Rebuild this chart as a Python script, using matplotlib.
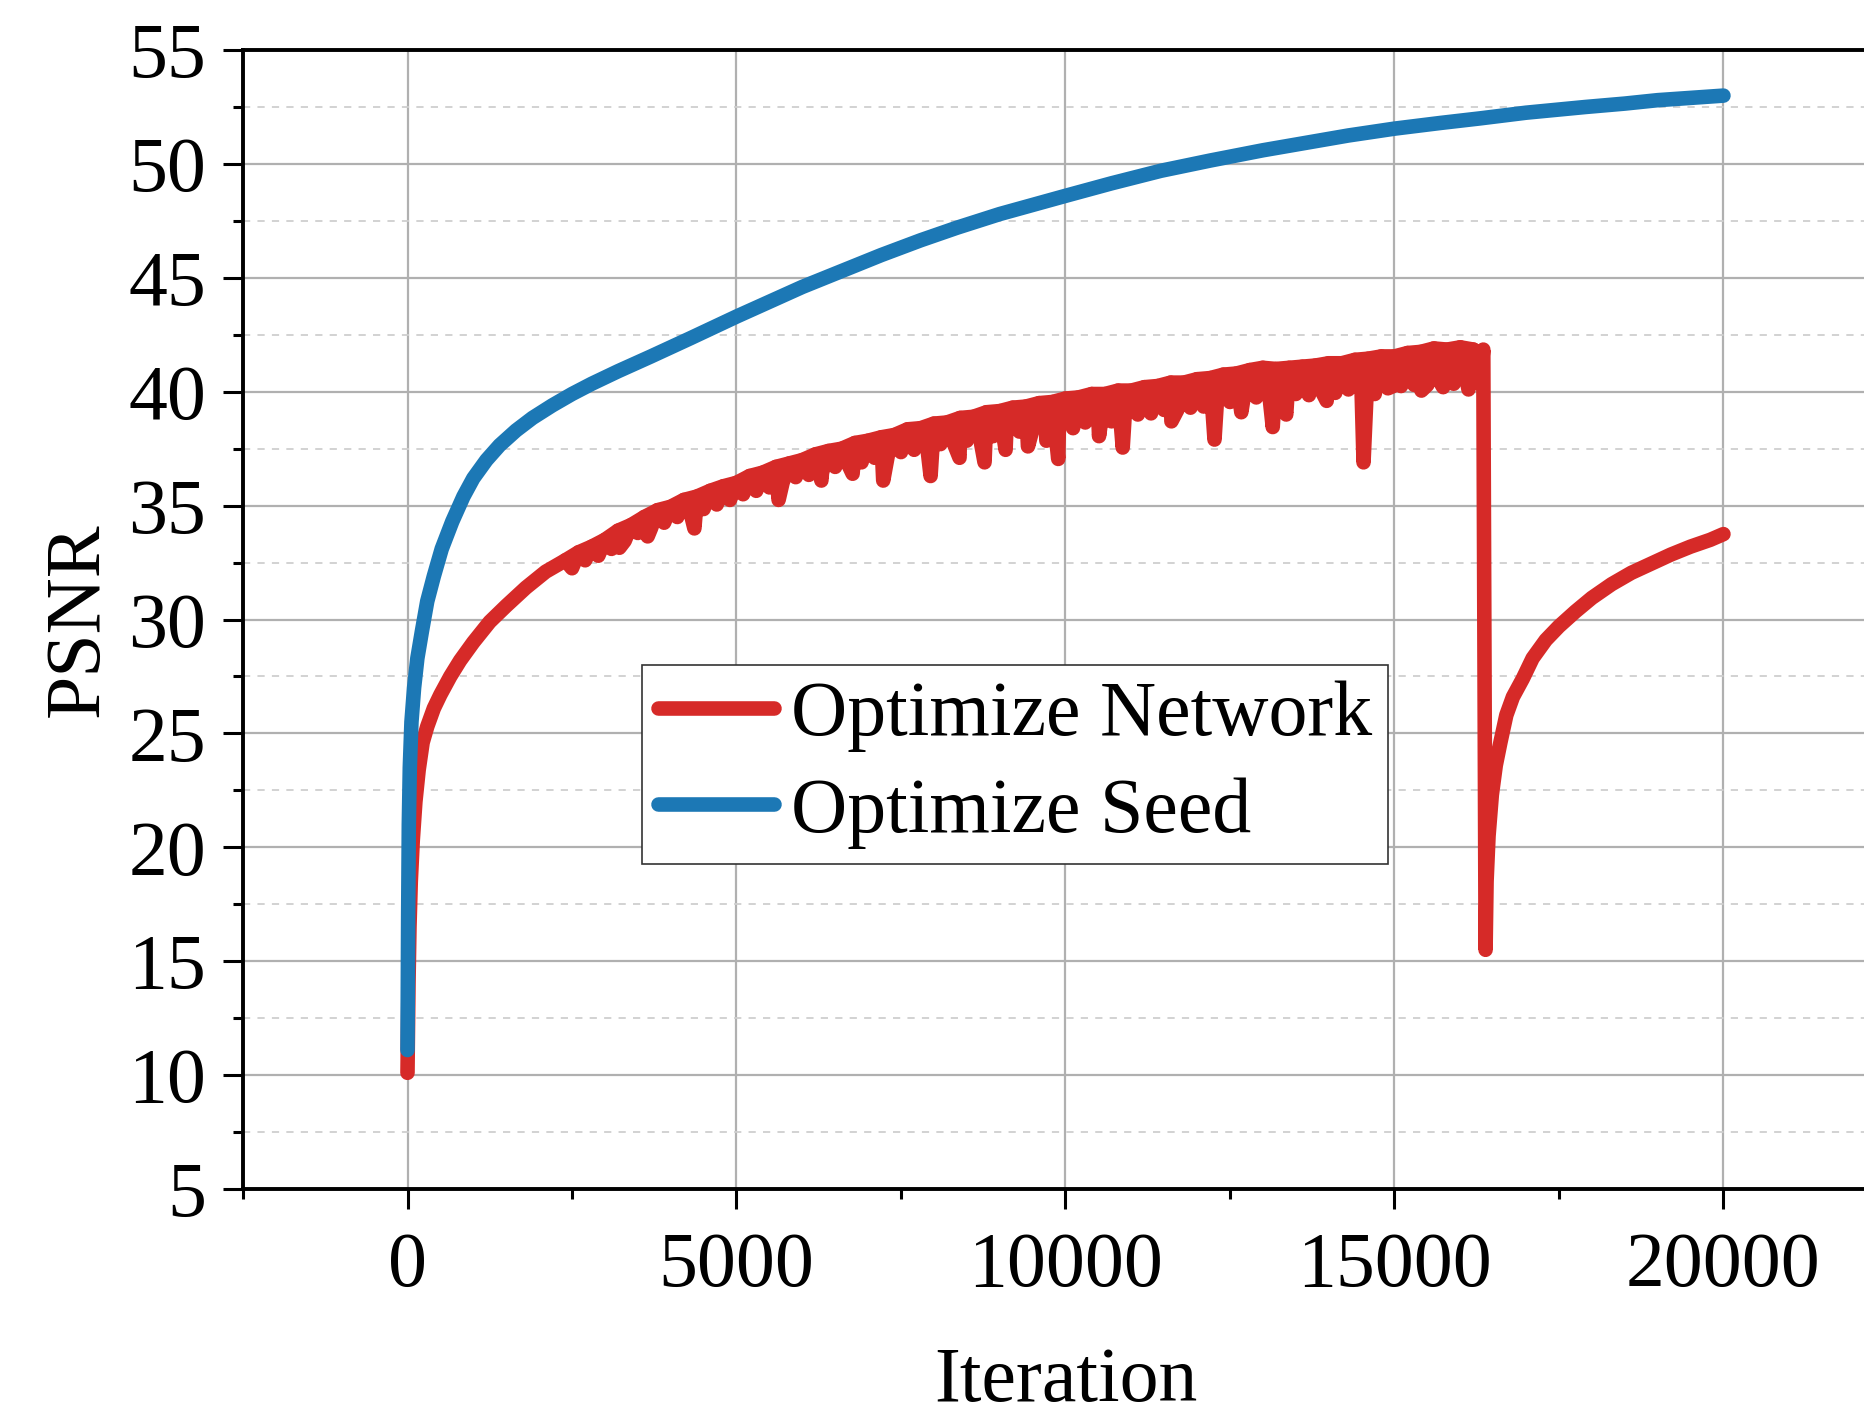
import matplotlib
matplotlib.use('Agg')
import matplotlib.pyplot as plt
import numpy as np
from matplotlib.ticker import MultipleLocator

plt.rcParams['font.family'] = 'serif'
plt.rcParams['font.serif'] = ['Liberation Serif', 'DejaVu Serif']

# ---- Optimize Seed (blue) ----
seed_x = [0, 10, 20, 35, 60, 100, 150, 220, 300, 400, 520, 680, 850, 1000, 1200,
          1400, 1650, 1900, 2200, 2500, 2800, 3200, 3700, 4300, 5000, 5500, 6000,
          6600, 7200, 7800, 8350, 9000, 10000, 10700, 11450, 12200, 13000, 13600,
          14300, 15000, 15700, 16300, 17000, 17900, 18500, 19000, 19500, 20000]
seed_y = [11.1, 17.0, 21.0, 23.5, 25.5, 27.0, 28.3, 29.5, 30.8, 31.9, 33.1, 34.3,
          35.4, 36.2, 37.0, 37.65, 38.3, 38.85, 39.4, 39.9, 40.35, 40.9, 41.55,
          42.35, 43.3, 43.95, 44.6, 45.3, 46.0, 46.65, 47.2, 47.8, 48.6, 49.15,
          49.7, 50.15, 50.6, 50.9, 51.25, 51.55, 51.8, 52.0, 52.25, 52.5, 52.65,
          52.8, 52.9, 53.0]

# ---- Optimize Network (red) ----
net_early_x = [0, 15, 30, 50, 80, 120, 170, 230, 300, 400, 500, 650, 800, 1000,
               1250, 1500, 1800, 2100]
net_early_y = [10.1, 14.0, 16.5, 18.5, 20.3, 22.0, 23.4, 24.6, 25.3, 26.1, 26.7,
               27.5, 28.2, 29.0, 29.9, 30.6, 31.4, 32.1]

# upper edge of the noisy band, every 200 iterations from 2400
net_hi_x = np.arange(2400, 16300, 200)
net_hi_y = [32.6, 32.95, 33.2, 33.5, 33.9, 34.15, 34.5, 34.8, 34.95, 35.25, 35.4,
            35.65, 35.85, 36.0, 36.3, 36.45, 36.7, 36.85, 37.0, 37.25, 37.4, 37.5,
            37.75, 37.85, 38.0, 38.1, 38.35, 38.4, 38.6, 38.65, 38.85, 38.9, 39.1,
            39.15, 39.3, 39.35, 39.5, 39.55, 39.7, 39.75, 39.9, 39.9, 40.05, 40.05,
            40.2, 40.25, 40.4, 40.4, 40.55, 40.6, 40.75, 40.8, 40.95, 41.05, 41.0,
            41.05, 41.1, 41.15, 41.25, 41.25, 41.4, 41.45, 41.55, 41.55, 41.7,
            41.75, 41.9, 41.85, 41.95, 41.85]
# lower edge of the band, in between
net_lo_x = np.arange(2500, 16400, 200)
net_lo_y = [32.25, 32.6, 32.8, 33.1, 33.45, 33.8, 34.0, 34.25, 34.5, 34.7, 34.85,
            35.05, 35.25, 35.5, 35.65, 35.8, 36.0, 36.25, 36.35, 36.45, 36.7, 36.8,
            36.9, 37.1, 37.2, 37.35, 37.45, 37.55, 37.7, 37.75, 37.85, 38.0, 38.05,
            38.2, 38.25, 38.35, 38.5, 38.45, 38.6, 38.65, 38.8, 38.7, 38.95, 39.0,
            39.05, 39.2, 39.2, 39.3, 39.35, 39.5, 39.55, 39.6, 39.75, 39.8, 39.75,
            39.9, 39.85, 40.0, 39.95, 40.1, 40.05, 40.2, 40.15, 40.25, 40.3, 40.3,
            40.4, 40.35, 40.45, 40.35]
# deep downward spikes
net_spike_x = [3220, 3650, 4360, 5640, 6290, 6765, 7230, 7950, 8390, 8770, 9090,
               9430, 9710, 9890, 10115, 10510, 10870, 11610, 12265, 12672, 13150,
               13355, 13970, 14530, 14700, 14980, 15410, 15740, 16125]
net_spike_y = [33.15, 33.65, 34.0, 35.25, 36.1, 36.4, 36.1, 36.3, 37.1, 36.9, 37.45,
               37.6, 37.85, 37.05, 38.4, 38.05, 37.55, 38.7, 37.9, 39.1, 38.45,
               39.0, 39.6, 36.9, 39.9, 40.25, 40.05, 40.2, 40.1]
# collapse and recovery
net_late_x = [16350, 16385, 16400, 16430, 16480, 16540, 16610, 16700, 16800, 16950,
              17100, 17300, 17500, 17750, 18000, 18300, 18600, 18900, 19200, 19500,
              19800, 20000]
net_late_y = [41.85, 15.5, 18.5, 20.5, 22.3, 23.6, 24.6, 25.8, 26.6, 27.4, 28.3,
              29.1, 29.7, 30.35, 30.95, 31.55, 32.05, 32.45, 32.85, 33.2, 33.5, 33.75]

net_x = np.concatenate([net_early_x, net_hi_x, net_lo_x, net_spike_x, net_late_x])
net_y = np.concatenate([net_early_y, net_hi_y, net_lo_y, net_spike_y, net_late_y])
order = np.argsort(net_x, kind='stable')
net_x = net_x[order]
net_y = net_y[order]

red = '#d62a28'
blue = '#1c78b5'
lw = 10.5

fig = plt.figure(figsize=(18.65, 14.18), dpi=100)
ax = fig.add_axes([0.1303, 0.1615, 0.882, 0.8032])

# noisy band of the network curve: filled between its upper and lower edges
ax.fill_between(net_hi_x, net_hi_y, net_lo_y, color=red, lw=0, zorder=3)
ax.plot(net_hi_x, net_hi_y, color=red, lw=lw, solid_capstyle='round',
        solid_joinstyle='round', zorder=3)
ax.plot(net_x, net_y, color=red, lw=lw, solid_capstyle='round',
        solid_joinstyle='round', label='Optimize Network', zorder=3)
ax.plot(seed_x, seed_y, color=blue, lw=lw, solid_capstyle='round',
        solid_joinstyle='round', label='Optimize Seed', zorder=4)

ax.set_xlim(-2500, 22500)
ax.set_ylim(5, 55)
ax.xaxis.set_major_locator(MultipleLocator(5000))
ax.xaxis.set_minor_locator(MultipleLocator(2500))
ax.yaxis.set_major_locator(MultipleLocator(5))
ax.yaxis.set_minor_locator(MultipleLocator(2.5))

ax.grid(which='major', color='#b0b0b0', lw=1.6, zorder=0)
ax.grid(which='minor', axis='y', color='#cfcfcf', lw=1.3, ls=(0, (4, 4)), zorder=0)
ax.set_axisbelow(True)

for s in ['left', 'bottom', 'top', 'right']:
    ax.spines[s].set_linewidth(2.8)
    ax.spines[s].set_color('black')

ax.tick_params(which='major', direction='out', length=14.5, width=2.2,
               labelsize=56, pad=12, top=False, right=False)
ax.tick_params(which='minor', direction='out', length=7.5, width=2.2,
               top=False, right=False)
ax.tick_params(axis='x', which='major', pad=16)

ax.set_xlabel('Iteration', fontsize=56)
ax.set_ylabel('PSNR', fontsize=56)
ax.xaxis.set_label_coords(0.5, -0.138)
ax.yaxis.set_label_coords(-0.078, 0.5)

leg = ax.legend(loc='upper left', bbox_to_anchor=(0.2426, 0.46), fontsize=56,
                frameon=True, fancybox=False, framealpha=1, edgecolor='#333333',
                borderpad=0.2, labelspacing=0.32, handlelength=1.5,
                handletextpad=0.22, borderaxespad=0)
leg.get_frame().set_linewidth(1.2)

fig.savefig('out.png', dpi=100)
